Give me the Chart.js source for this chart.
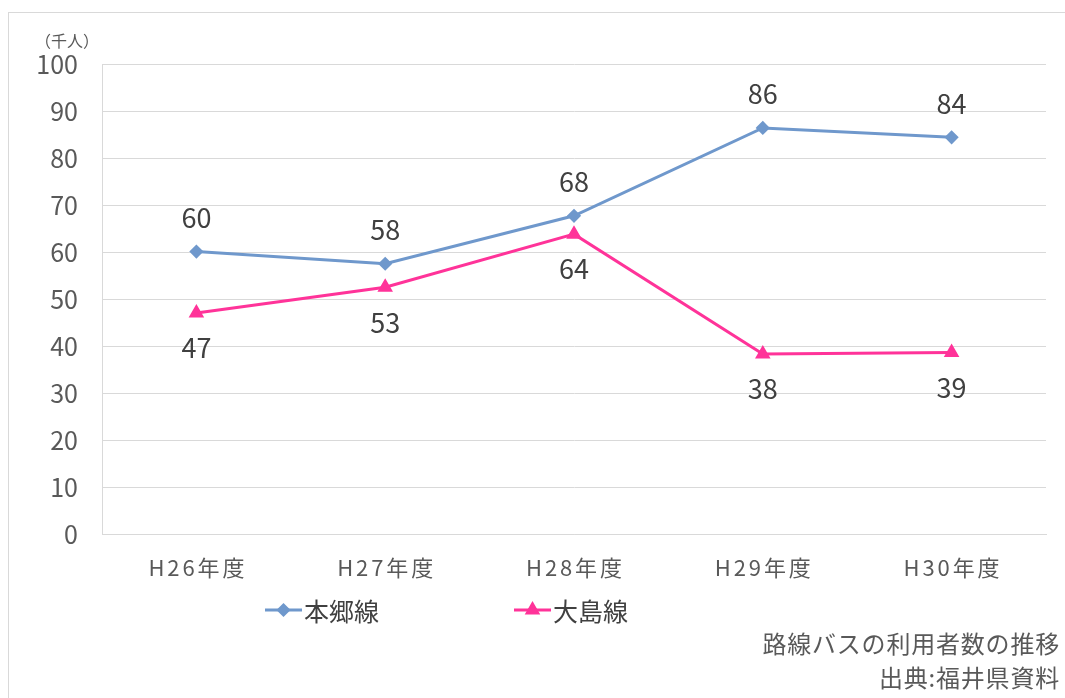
<!DOCTYPE html>
<html lang="ja">
<head>
<meta charset="utf-8">
<script src="https://cdn.jsdelivr.net/npm/chart.js@4"></script>
<style>
  html, body { margin: 0; padding: 0; background: #fff; }
  body { width: 1065px; height: 698px; position: relative; overflow: hidden; }
  .frame { position: absolute; left: 8px; top: 12px; width: 1100px; height: 720px; border: 1px solid #d9d9d9; box-sizing: border-box; }
  .chart-box { position: absolute; left: 0; top: 0; width: 1065px; height: 698px; }
  .unit { position: absolute; left: 35px; top: 29px; font: 16px/22px "Noto Sans CJK JP", sans-serif; color: #595959; }
  .note { position: absolute; right: 5px; font: 24px/30px "Noto Sans CJK JP", sans-serif; letter-spacing: 0.8px; color: #595959; text-align: right; }
</style>
</head>
<body>
<div class="frame"></div>
<div class="chart-box"><canvas id="busChart" width="1065" height="698"></canvas></div>
<div class="unit">（千人）</div>
<div class="note" style="top:628px">路線バスの利用者数の推移</div>
<div class="note" style="top:662px">出典:福井県資料</div>
<script>
// Fiscal years and ridership (thousand people)
const years = ["H26年度", "H27年度", "H28年度", "H29年度", "H30年度"];
const hongoValues = [60.1, 57.5, 67.7, 86.4, 84.4];
const oshimaValues = [47.0, 52.5, 63.8, 38.3, 38.6];
const hongoLabels = ["60", "58", "68", "86", "84"];
const oshimaLabels = ["47", "53", "64", "38", "39"];

const FONT = '"Noto Sans CJK JP", "Noto Sans", sans-serif';

// Category labels drawn with wider letter spacing (Chart.js ticks can't do that)
const spacedXLabels = {
  id: "spacedXLabels",
  afterDraw(chart) {
    const { ctx } = chart;
    const xs = chart.scales.x;
    ctx.save();
    ctx.font = `22px ${FONT}`;
    ctx.fillStyle = "#595959";
    ctx.textAlign = "left";
    ctx.textBaseline = "middle";
    chart.data.labels.forEach((lbl, i) => {
      ctx.letterSpacing = "0px";
      const natural = ctx.measureText(lbl).width;
      const gap = (96 - natural) / (lbl.length - 1);
      ctx.letterSpacing = gap.toFixed(2) + "px";
      const x = xs.getPixelForTick(i);
      ctx.fillText(lbl, x - 48, xs.top + 34);
    });
    ctx.letterSpacing = "0px";
    ctx.restore();
  }
};

// Value labels: blue series above points, pink series below
const valueLabels = {
  id: "valueLabels",
  afterDatasetsDraw(chart) {
    const { ctx } = chart;
    ctx.save();
    ctx.font = `27px ${FONT}`;
    ctx.fillStyle = "#404040";
    ctx.textAlign = "center";
    ctx.textBaseline = "middle";
    chart.data.datasets.forEach((ds, i) => {
      const meta = chart.getDatasetMeta(i);
      meta.data.forEach((pt, j) => {
        const dy = ds.labelPos === "above" ? -34 : 35;
        ctx.fillText(ds.valueText[j], pt.x, pt.y + dy);
      });
    });
    ctx.restore();
  }
};

// Legend with line + marker swatches
const lineLegend = {
  id: "lineLegend",
  afterDraw(chart) {
    const { ctx } = chart;
    const starts = [265, 514];
    const y = 610;
    ctx.save();
    chart.data.datasets.forEach((ds, i) => {
      const x = starts[i];
      ctx.strokeStyle = ds.borderColor;
      ctx.lineWidth = 3;
      ctx.beginPath();
      ctx.moveTo(x, y);
      ctx.lineTo(x + 37, y);
      ctx.stroke();
      Chart.helpers.drawPoint(ctx, {
        pointStyle: ds.pointStyle,
        radius: ds.pointRadius,
        borderWidth: 1
      }, x + 18.5, y);
      ctx.fillStyle = ds.borderColor;
      ctx.fill();
      ctx.font = `25px ${FONT}`;
      ctx.fillStyle = "#404040";
      ctx.textAlign = "left";
      ctx.textBaseline = "middle";
      ctx.fillText(ds.label, x + 39, y + 1);
    });
    ctx.restore();
  }
};

new Chart(document.getElementById("busChart"), {
  type: "line",
  data: {
    labels: years,
    datasets: [
      {
        label: "本郷線",
        data: hongoValues,
        valueText: hongoLabels,
        labelPos: "above",
        borderColor: "#6f98cc",
        backgroundColor: "#6f98cc",
        borderWidth: 3,
        pointStyle: "rectRot",
        pointRadius: 5,
        pointHoverRadius: 5,
        tension: 0
      },
      {
        label: "大島線",
        data: oshimaValues,
        valueText: oshimaLabels,
        labelPos: "below",
        borderColor: "#ff3399",
        backgroundColor: "#ff3399",
        borderWidth: 3,
        pointStyle: "triangle",
        pointRadius: 6,
        pointHoverRadius: 6,
        tension: 0
      }
    ]
  },
  options: {
    responsive: false,
    animation: false,
    layout: { padding: { left: 0, right: 19, top: 64, bottom: 0 } },
    plugins: {
      legend: { display: false },
      tooltip: { enabled: false }
    },
    scales: {
      x: {
        offset: true,
        grid: { display: false, drawTicks: false },
        border: { color: "#d9d9d9", width: 1 },
        ticks: { display: false },
        afterFit: s => { s.height = 164; }
      },
      y: {
        min: 0,
        max: 100,
        ticks: { stepSize: 10, color: "#595959", font: { family: FONT, size: 25 }, padding: 24 },
        grid: { color: "#d9d9d9", drawTicks: false },
        border: { color: "#d9d9d9", width: 1 },
        afterFit: s => { s.width = 102; }
      }
    }
  },
  plugins: [valueLabels, spacedXLabels, lineLegend]
});
</script>
</body>
</html>
